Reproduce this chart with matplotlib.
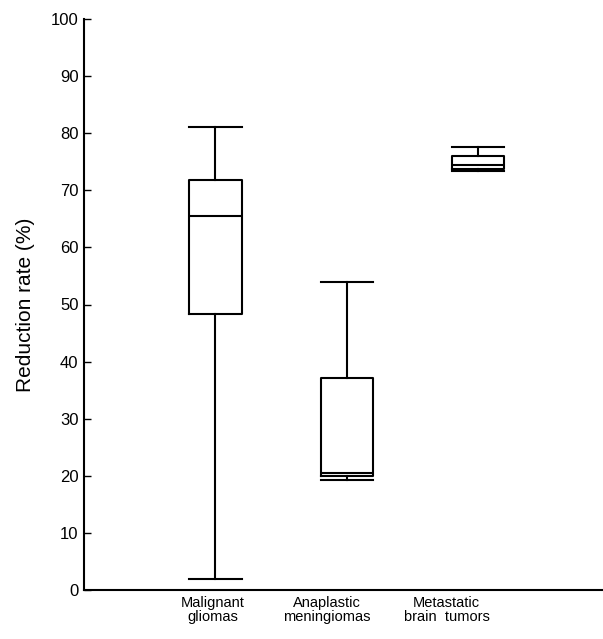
import matplotlib
matplotlib.use("Agg")
import matplotlib.pyplot as plt

plt.rcParams['font.family'] = ['Liberation Sans', 'DejaVu Sans']

categories = ["Malignant\ngliomas", "Anaplastic\nmeningiomas", "Metastatic\nbrain  tumors"]
positions = [1, 2, 3]
label_positions = [0.98, 1.845, 2.76]
whislo = [2.0, 19.3, 73.4]
q1 = [48.4, 19.9, 73.7]
med = [65.5, 20.5, 74.4]
q3 = [71.8, 37.2, 76.0]
whishi = [81.0, 54.0, 77.5]
yticks = [0, 10, 20, 30, 40, 50, 60, 70, 80, 90, 100]

fig = plt.figure(figsize=(6.03, 6.39), dpi=100)
ax = fig.add_axes([84 / 603, 49 / 639, 1 - 84 / 603, (590 - 19) / 639])

stats = []
for i in range(len(positions)):
    stats.append(dict(whislo=whislo[i], q1=q1[i], med=med[i], q3=q3[i],
                      whishi=whishi[i], fliers=[]))

lw = 1.5
ax.bxp(stats, positions=positions, widths=0.4, capwidths=0.4,
       showfliers=False, patch_artist=False,
       boxprops=dict(color='black', linewidth=lw),
       whiskerprops=dict(color='black', linewidth=lw),
       capprops=dict(color='black', linewidth=lw),
       medianprops=dict(color='black', linewidth=lw))

ax.set_xlim(0, 3.95)
ax.set_ylim(0, 100)
ax.set_yticks(yticks)
ax.set_yticklabels([str(v) for v in yticks], fontsize=12)
ax.set_xticks(label_positions)
ax.set_xticklabels(categories, fontsize=10.5, linespacing=1.05)
ax.tick_params(axis='x', length=0, pad=4)
ax.tick_params(axis='y', direction='in', length=5, width=1, pad=4)
ax.spines['top'].set_visible(False)
ax.spines['right'].set_visible(False)
ax.spines['left'].set_linewidth(lw)
ax.spines['bottom'].set_linewidth(lw)
ax.set_ylabel("Reduction rate (%)", fontsize=15, labelpad=11)

fig.savefig("out.png", dpi=100)
